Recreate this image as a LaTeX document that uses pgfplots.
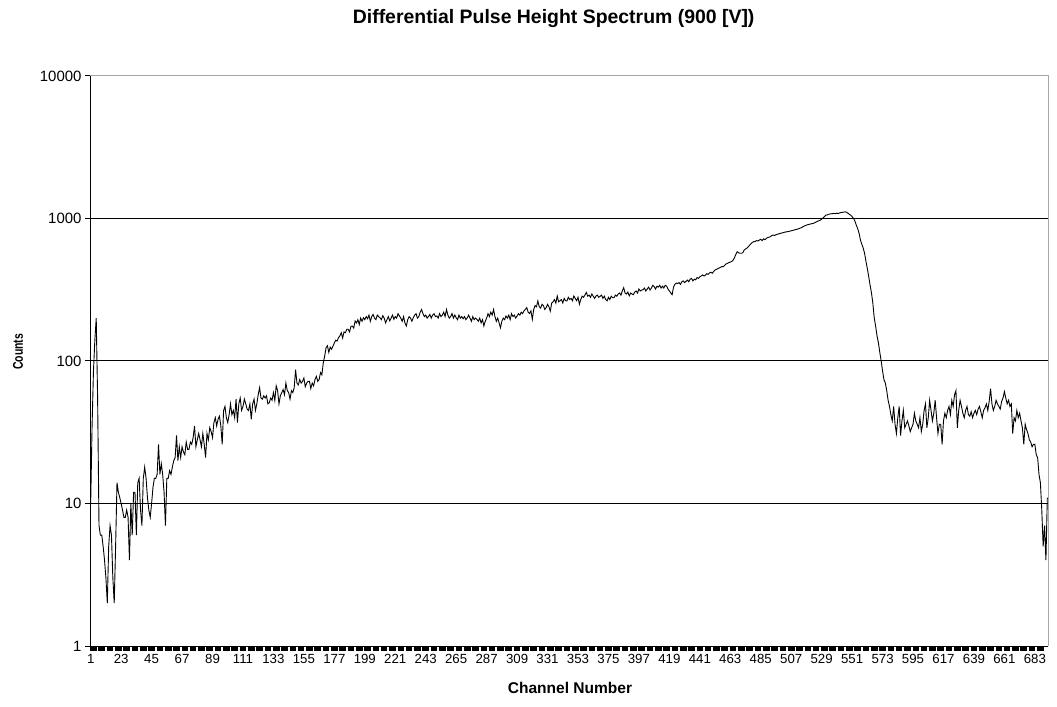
\documentclass[border=0pt]{standalone}
\usepackage{fontspec}
\setmainfont{Liberation Sans}
\usepackage{pgfplots}
\pgfplotsset{compat=1.18}
\begin{document}
\begin{tikzpicture}
\useasboundingbox (0,0) rectangle (1057bp,707bp);
\begin{axis}[
  at={(90bp,61bp)}, anchor=south west,
  scale only axis, width=958bp, height=570bp,
  xmin=0.5, xmax=692.5,
  ymode=log, ymin=1, ymax=10000,
  yminorticks=false,
  axis lines=left, axis line style={-, black, line width=1bp},
  /pgf/number format/assume math mode=true,
  /pgf/number format/1000 sep={},
  ytick={10,100,1000}, yticklabels={10,100,1000},
  extra y ticks={1,10000}, extra y tick labels={1,10000},
  extra y tick style={grid=none},
  ymajorgrids, major grid style={black, line width=1bp},
  xtick={1,23,...,683},
  minor xtick={3,9,...,687},
  tick align=outside,
  major tick length=5bp, minor tick length=5bp,
  tick style={black, line width=1bp},
  major x tick style={draw=none},
  minor x tick style={black, line width=6.6bp},
  xticklabel style={font=\fontsize{13.3}{16}\selectfont},
  yticklabel style={font=\fontsize{15}{18}\selectfont},
  title={Differential Pulse Height Spectrum (900 [V])},
  title style={at={(rel axis cs:0.484,1.0895)}, anchor=center, font=\fontsize{19.5}{23}\selectfont\bfseries},
  xlabel={Channel Number},
  xlabel style={at={(rel axis cs:0.501,-0.0737)}, anchor=center, font=\fontsize{15.6}{18}\selectfont\bfseries},
  ylabel={Counts},
  ylabel style={at={(rel axis cs:-0.0752,0.516)}, anchor=center, yscale=1.35, font=\fontsize{10.5}{13}\selectfont\bfseries},
  extra description/.code={\draw[gray!70, line width=1bp] (rel axis cs:0,1) -- (rel axis cs:1,1) -- (rel axis cs:1,0);},
]
\addplot[black, line width=0.9bp, no marks] coordinates {
(1,10)(2,35)(3,85)(4,140)(5,200)(6,55)(7,7)(8,6)(9,6)(10,5)
(11,4)(12,3)(13,2)(14,5)(15,7)(16,6)(17,3)(18,2)(19,5)(20,14)
(21,12)(22,11)(23,10)(24,9)(25,8)(26,8)(27,9)(28,8)(29,4)(30,10)
(31,6)(32,12)(33,12)(34,6)(35,14)(36,15)(37,9)(38,7)(39,15)(40,18)
(41,15)(42,11)(43,9)(44,8)(45,10)(46,13)(47,15)(48,15)(49,16)(50,26)
(51,16)(52,19)(53,16)(54,12)(55,7)(56,15)(57,15)(58,17)(59,16)(60,18)
(61,20)(62,21)(63,30)(64,20)(65,25)(66,21)(67,25)(68,23)(69,22)(70,27)
(71,24)(72,24)(73,27)(74,26)(75,29)(76,35)(77,25)(78,28)(79,31)(80,28)
(81,25)(82,31)(83,26)(84,21)(85,31)(86,28)(87,34)(88,32)(89,29)(90,37)
(91,40)(92,35)(93,39)(94,41)(95,35)(96,26)(97,45)(98,48)(99,40)(100,37)
(101,42)(102,50)(103,42)(104,45)(105,40)(106,54)(107,37)(108,50)(109,55)(110,45)
(111,48)(112,54)(113,50)(114,46)(115,45)(116,50)(117,39)(118,50)(119,54)(120,45)
(121,50)(122,58)(123,65)(124,55)(125,54)(126,57)(127,55)(128,57)(129,50)(130,51)
(131,55)(132,53)(133,60)(134,53)(135,67)(136,62)(137,50)(138,57)(139,60)(140,63)
(141,58)(142,70)(143,62)(144,60)(145,54)(146,62)(147,60)(148,65)(149,87)(150,70)
(151,68)(152,74)(153,70)(154,72)(155,76)(156,66)(157,70)(158,72)(159,72)(160,64)
(161,70)(162,67)(163,74)(164,78)(165,72)(166,74)(167,83)(168,80)(169,97)(170,108)
(171,124)(172,128)(173,115)(174,125)(175,121)(176,127)(177,134)(178,140)(179,138)(180,146)
(181,150)(182,158)(183,145)(184,160)(185,158)(186,167)(187,167)(188,160)(189,175)(190,176)
(191,170)(192,191)(193,185)(194,195)(195,180)(196,200)(197,190)(198,201)(199,195)(200,205)
(201,198)(202,210)(203,190)(204,205)(205,212)(206,200)(207,195)(208,210)(209,205)(210,201)
(211,195)(212,208)(213,200)(214,185)(215,195)(216,205)(217,191)(218,200)(219,210)(220,196)
(221,205)(222,200)(223,215)(224,207)(225,200)(226,190)(227,205)(228,185)(229,176)(230,195)
(231,205)(232,200)(233,190)(234,201)(235,210)(236,215)(237,200)(238,205)(239,220)(240,230)
(241,215)(242,205)(243,210)(244,200)(245,205)(246,212)(247,200)(248,210)(249,215)(250,205)
(251,207)(252,200)(253,215)(254,205)(255,210)(256,220)(257,205)(258,230)(259,210)(260,200)
(261,205)(262,215)(263,200)(264,210)(265,201)(266,195)(267,210)(268,200)(269,205)(270,198)
(271,205)(272,195)(273,201)(274,210)(275,200)(276,190)(277,205)(278,195)(279,200)(280,196)
(281,190)(282,200)(283,185)(284,195)(285,176)(286,190)(287,200)(288,215)(289,205)(290,220)
(291,210)(292,230)(293,205)(294,190)(295,200)(296,185)(297,171)(298,190)(299,200)(300,195)
(301,207)(302,200)(303,210)(304,195)(305,215)(306,205)(307,210)(308,200)(309,207)(310,215)
(311,210)(312,220)(313,215)(314,225)(315,230)(316,237)(317,220)(318,215)(319,225)(320,196)
(321,230)(322,245)(323,240)(324,264)(325,240)(326,235)(327,250)(328,245)(329,230)(330,237)
(331,250)(332,240)(333,224)(334,255)(335,260)(336,270)(337,255)(338,286)(339,260)(340,265)
(341,270)(342,255)(343,275)(344,265)(345,264)(346,280)(347,270)(348,275)(349,265)(350,286)
(351,275)(352,265)(353,280)(354,250)(355,270)(356,285)(357,280)(358,290)(359,303)(360,285)
(361,290)(362,280)(363,295)(364,285)(365,275)(366,286)(367,290)(368,280)(369,284)(370,290)
(371,275)(372,285)(373,270)(374,264)(375,280)(376,270)(377,285)(378,278)(379,278)(380,290)
(381,285)(382,295)(383,300)(384,290)(385,310)(386,327)(387,300)(388,295)(389,305)(390,286)
(391,300)(392,295)(393,292)(394,305)(395,310)(396,300)(397,320)(398,310)(399,315)(400,316)
(401,325)(402,310)(403,320)(404,330)(405,315)(406,325)(407,340)(408,333)(409,320)(410,335)
(411,330)(412,340)(413,325)(414,335)(415,325)(416,340)(417,335)(418,320)(419,310)(420,300)
(421,292)(422,330)(423,345)(424,352)(425,350)(426,355)(427,345)(428,360)(429,365)(430,355)
(431,362)(432,370)(433,360)(434,375)(435,380)(436,365)(437,375)(438,371)(439,385)(440,380)
(441,390)(442,395)(443,402)(444,395)(445,400)(446,410)(447,405)(448,415)(449,420)(450,413)
(451,425)(452,435)(453,440)(454,445)(455,450)(456,455)(457,460)(458,460)(459,470)(460,480)
(461,485)(462,490)(463,495)(464,499)(465,510)(466,530)(467,560)(468,585)(469,575)(470,570)
(471,570)(472,575)(473,600)(474,610)(475,620)(476,634)(477,650)(478,665)(479,680)(480,688)
(481,690)(482,700)(483,695)(484,706)(485,715)(486,700)(487,720)(488,710)(489,725)(490,735)
(491,740)(492,745)(493,760)(494,765)(495,760)(496,770)(497,775)(498,780)(499,786)(500,790)
(501,795)(502,800)(503,805)(504,807)(505,810)(506,815)(507,820)(508,825)(509,829)(510,835)
(511,840)(512,845)(513,852)(514,860)(515,870)(516,880)(517,890)(518,899)(519,905)(520,910)
(521,915)(522,920)(523,923)(524,935)(525,945)(526,955)(527,965)(528,973)(529,990)(530,1010)
(531,1030)(532,1055)(533,1060)(534,1070)(535,1075)(536,1080)(537,1083)(538,1085)(539,1080)(540,1090)
(541,1083)(542,1095)(543,1100)(544,1105)(545,1110)(546,1113)(547,1105)(548,1090)(549,1070)(550,1055)
(551,1030)(552,1000)(553,960)(554,900)(555,850)(556,790)(557,706)(558,660)(559,620)(560,570)
(561,500)(562,445)(563,390)(564,340)(565,300)(566,253)(567,200)(568,175)(569,150)(570,134)
(571,115)(572,100)(573,85)(574,74)(575,70)(576,62)(577,53)(578,48)(579,42)(580,38)
(581,48)(582,36)(583,31)(584,40)(585,48)(586,30)(587,38)(588,45)(589,34)(590,36)
(591,38)(592,35)(593,32)(594,34)(595,36)(596,43)(597,38)(598,36)(599,34)(600,40)
(601,32)(602,36)(603,45)(604,50)(605,34)(606,40)(607,53)(608,45)(609,38)(610,43)
(611,53)(612,40)(613,31)(614,36)(615,36)(616,26)(617,38)(618,43)(619,40)(620,45)
(621,48)(622,42)(623,53)(624,48)(625,58)(626,62)(627,34)(628,45)(629,53)(630,48)
(631,43)(632,40)(633,45)(634,48)(635,42)(636,41)(637,44)(638,40)(639,43)(640,45)
(641,42)(642,46)(643,48)(644,44)(645,40)(646,45)(647,47)(648,50)(649,45)(650,52)
(651,64)(652,50)(653,45)(654,48)(655,53)(656,50)(657,48)(658,46)(659,52)(660,55)
(661,61)(662,55)(663,50)(664,53)(665,48)(666,50)(667,31)(668,40)(669,38)(670,45)
(671,40)(672,43)(673,38)(674,34)(675,26)(676,36)(677,33)(678,31)(679,28)(680,27)
(681,25)(682,26)(683,26)(684,22)(685,21)(686,16)(687,14)(688,9)(689,5)(690,7)
(691,4)(692,11)
};
\end{axis}
\end{tikzpicture}
\end{document}
